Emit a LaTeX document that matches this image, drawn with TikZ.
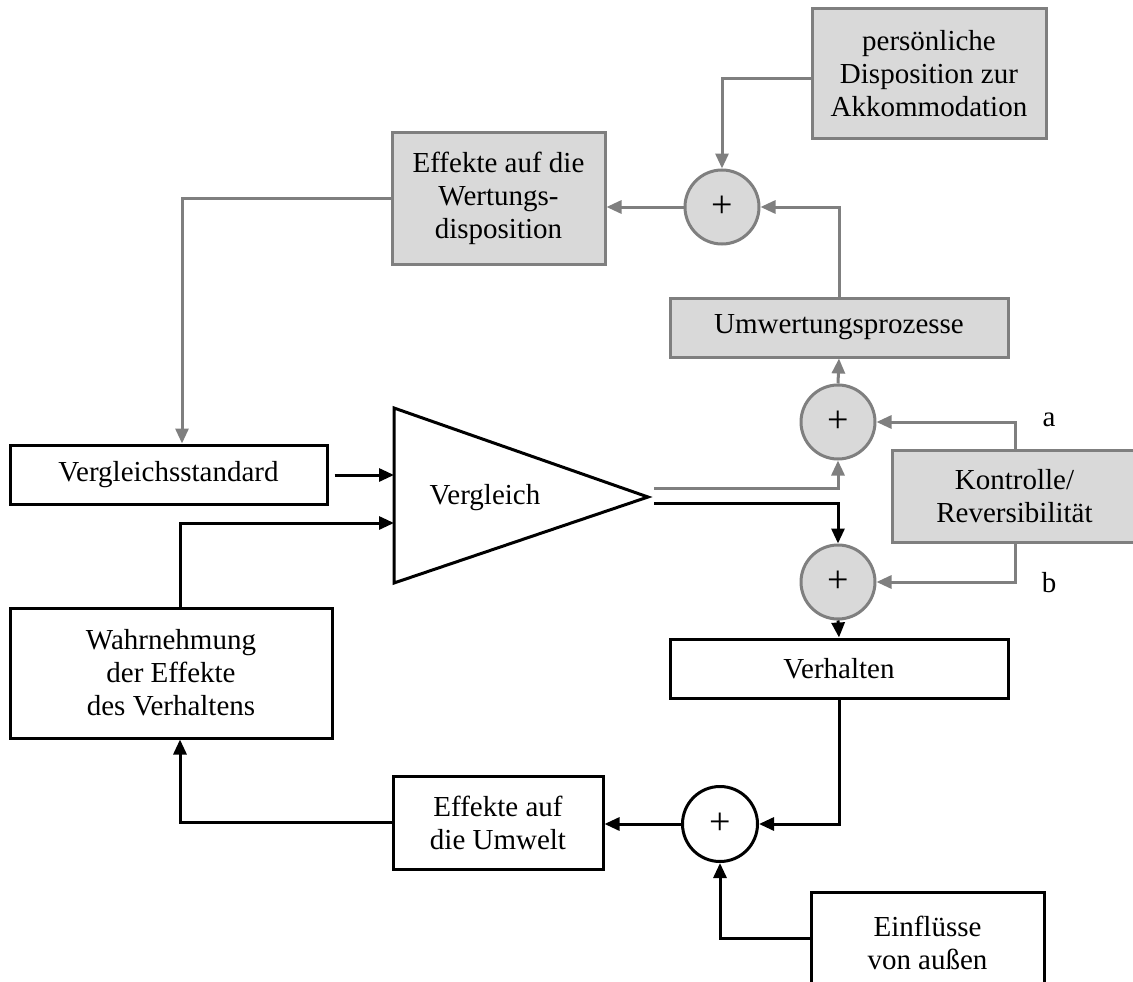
\documentclass[tikz,border=0pt]{standalone}
\usepackage{fontspec}
\setmainfont{Liberation Serif}
\usetikzlibrary{arrows.meta}
\definecolor{boxgray}{HTML}{D9D9D9}
\definecolor{linegray}{HTML}{7F7F7F}
\tikzset{
  every node/.style={font=\fontsize{29}{33}\selectfont, inner sep=0pt, align=center},
  bbox/.style={draw=black, line width=3pt, fill=white, rectangle},
  gbox/.style={draw=linegray, line width=3pt, fill=boxgray, rectangle},
  bsum/.style={draw=black, line width=3pt, fill=white, circle, minimum size=75pt},
  gsum/.style={draw=linegray, line width=3pt, fill=boxgray, circle, minimum size=74pt},
  tip/.style={-{Triangle[length=15pt,width=13pt]}},
  barrow/.style={draw=black, line width=3pt, tip},
  garrow/.style={draw=linegray, fill=none, line width=3pt, tip},
  bline/.style={draw=black, line width=3pt, line join=miter},
}
\newcommand{\plussign}{\raisebox{-6pt}{\fontsize{38}{38}\selectfont +}}
\begin{document}
\begin{tikzpicture}[x=1pt,y=-1pt]
\useasboundingbox (0,0) rectangle (1133,982);
\clip (0,0) rectangle (1133,982);

% upper (grey) part: re-evaluation loop
\node[gbox, minimum width=234pt, minimum height=129pt] (pers) at (929,73.5)
  {persönliche\\Disposition zur\\Akkommodation};
\node[gbox, minimum width=213pt, minimum height=132pt] (wert) at (498.5,198)
  {Effekte auf die\\Wertungs-\\disposition};
\node[gsum] (sumtop) at (722,207) {\plussign};
\node[gbox, minimum width=338pt, minimum height=59pt] (umw) at (839,327.5)
  {Umwertungsprozesse};
\node[gsum] (suma) at (838,422) {\plussign};
\node[gsum] (sumb) at (838,582) {\plussign};
\node[gbox, minimum width=245pt, minimum height=92pt] (kontr) at (1014.5,496)
  {Kontrolle/\\Reversibilität};
\node (la) at (1049,420) {a};
\node (lb) at (1049,583) {b};

% comparator
\draw[bline] (394,408) -- (648,497) -- (394,583) -- cycle;
\node (cmp) at (485,498) {Vergleich};
\coordinate (in1) at (394,475);
\coordinate (in2) at (394,523);
\coordinate (out1) at (654,488);
\coordinate (out2) at (654,503);

% lower (black) part: behaviour loop
\node[bbox, minimum width=317pt, minimum height=59pt] (vs) at (168.5,474.5)
  {Vergleichsstandard};
\node[bbox, minimum width=322pt, minimum height=130pt] (wahr) at (171,673)
  {Wahrnehmung\\der Effekte\\des Verhaltens};
\node[bbox, minimum width=338pt, minimum height=59pt] (verh) at (839,668.5)
  {Verhalten};
\node[bsum] (sumbot) at (720,824) {\plussign};
\node[bbox, minimum width=210pt, minimum height=93pt] (umwelt) at (498,822.5)
  {Effekte auf\\die Umwelt};
\node[bbox, minimum width=233pt, minimum height=102pt] (einf) at (927.5,943)
  {Einflüsse\\von außen};

% grey connectors
\draw[garrow] ([yshift=-5.5pt]pers.west) -| (sumtop.north);
\draw[garrow] (umw.north) |- (sumtop.east);
\draw[garrow] (sumtop.west) -- (sumtop.west -| wert.east);
\draw[garrow] (wert.west) -| ([xshift=13.5pt]vs.north);
\draw[garrow] (suma.north) -- (umw.south);
\draw[garrow] (out1) -| (suma.south);
\draw[garrow] ([xshift=0.5pt]kontr.north) |- (suma.east);
\draw[garrow] ([xshift=0.5pt]kontr.south) |- (sumb.east);

% black connectors
\draw[barrow] ([xshift=6pt]vs.east |- in1) -- (in1);
\draw[barrow] ([xshift=9pt]wahr.north) |- (in2);
\draw[barrow] (out2) -| (sumb.north);
\draw[barrow] (sumb.south) -- (verh.north);
\draw[barrow] (verh.south) |- (sumbot.east);
\draw[barrow] (sumbot.west) -- (sumbot.west -| umwelt.east);
\draw[barrow] (umwelt.west) -| ([xshift=9pt]wahr.south);
\draw[barrow] ([yshift=5pt]einf.west) -| (sumbot.south);
\end{tikzpicture}
\end{document}
